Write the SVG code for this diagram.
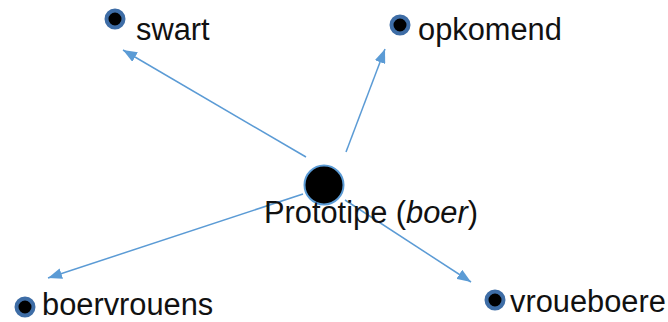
<svg xmlns="http://www.w3.org/2000/svg" width="668" height="322" viewBox="0 0 668 322">
  <defs>
    <marker id="arr" markerUnits="userSpaceOnUse" markerWidth="15" markerHeight="11" refX="14" refY="5.5" orient="auto">
      <path d="M0,0 L14,5.5 L0,11 z" fill="#5B9BD5"/>
    </marker>
  </defs>
  <style>
    .edge { stroke: #5B9BD5; stroke-width: 1.5; fill: none; marker-end: url(#arr); }
    .dot { fill: #000; stroke: #3E6DA6; stroke-width: 4; }
    .hub { fill: #000; stroke: #5B9BD5; stroke-width: 2; }
    .lbl { font-family: "Liberation Sans", Arial, sans-serif; font-size: 30.8px; fill: #111; }
  </style>
  <rect width="668" height="322" fill="#fff"/>
  <g id="connectors">
    <line class="edge" x1="306" y1="157" x2="123" y2="50"/>
    <line class="edge" x1="346" y1="152" x2="385" y2="49"/>
    <line class="edge" x1="303" y1="194" x2="48" y2="278"/>
    <line class="edge" x1="345" y1="200" x2="471" y2="282"/>
  </g>
  <g id="prototipe">
    <circle class="hub" cx="324" cy="185" r="19.5"/>
    <text class="lbl" x="264" y="223">Prototipe (<tspan font-style="italic">boer</tspan>)</text>
  </g>
  <g id="swart">
    <circle class="dot" cx="115" cy="19" r="8.5"/>
    <text class="lbl" x="136" y="40">swart</text>
  </g>
  <g id="opkomend">
    <circle class="dot" cx="400" cy="25" r="8.5"/>
    <text class="lbl" x="418" y="40">opkomend</text>
  </g>
  <g id="boervrouens">
    <circle class="dot" cx="25" cy="307" r="8.5"/>
    <text class="lbl" x="42" y="315">boervrouens</text>
  </g>
  <g id="vroueboere">
    <circle class="dot" cx="495" cy="300" r="8.5"/>
    <text class="lbl" x="510" y="312">vroueboere</text>
  </g>
</svg>
